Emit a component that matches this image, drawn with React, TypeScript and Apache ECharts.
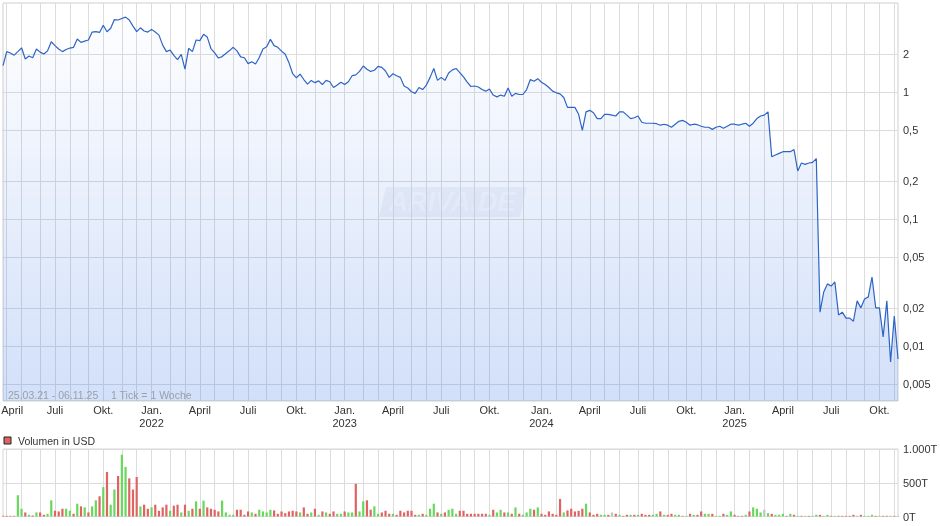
import React, { useEffect, useRef } from 'react';
import * as echarts from 'echarts';

// Weekly closing prices (USD), one per week starting 25.03.21
const startDate = '2021-03-25';
const prices = [
  1.62, 2.09, 2.04, 1.96, 2.09, 2.24, 1.83, 1.93, 1.87, 2.19,
  2.07, 2.0, 2.12, 2.5, 2.33, 2.19, 2.09, 2.17, 2.23, 2.26,
  2.63, 2.47, 2.53, 2.58, 2.98, 3.0, 2.96, 3.37, 3.0, 3.19,
  3.74, 3.71, 3.81, 3.91, 3.71, 3.32, 3.0, 3.22, 3.04, 2.98,
  3.13, 2.98, 2.82, 2.35, 2.09, 2.15, 1.95, 1.81, 1.99, 1.52,
  2.22, 2.09, 2.58, 2.55, 2.86, 2.72, 2.21, 2.04, 1.86, 1.91,
  2.02, 2.13, 2.26, 2.12, 1.9, 1.87, 1.68, 1.74, 1.67, 1.88,
  2.19, 2.28, 2.61, 2.33, 2.26, 2.11, 1.99, 1.71, 1.4, 1.3,
  1.39, 1.26, 1.16, 1.24, 1.19, 1.23, 1.15, 1.24, 1.21, 1.09,
  1.14, 1.2, 1.15, 1.21, 1.35, 1.37, 1.46, 1.61, 1.52, 1.46,
  1.49, 1.6, 1.57, 1.47, 1.31, 1.4, 1.35, 1.31, 1.12, 1.08,
  1.01, 0.98, 1.09, 1.05, 1.14, 1.31, 1.54, 1.24, 1.31, 1.24,
  1.42, 1.5, 1.54, 1.43, 1.32, 1.2, 1.11, 1.12, 1.1, 1.05,
  1.02, 1.06, 0.95, 0.92, 0.95, 0.93, 1.08, 0.93, 0.98, 0.96,
  0.96, 1.05, 1.26, 1.22, 1.28, 1.2, 1.15, 1.09, 1.02, 0.99,
  0.97, 0.91, 0.76, 0.76, 0.76, 0.67, 0.5, 0.7, 0.72, 0.69,
  0.62, 0.62, 0.67, 0.67, 0.66, 0.65, 0.7, 0.7, 0.66, 0.62,
  0.63, 0.65, 0.58, 0.57, 0.57, 0.57, 0.565, 0.55, 0.56, 0.55,
  0.53, 0.56, 0.59, 0.6, 0.58, 0.55, 0.56, 0.555, 0.54, 0.53,
  0.53, 0.51, 0.53, 0.54, 0.52, 0.54, 0.56, 0.56, 0.55, 0.56,
  0.57, 0.54, 0.57, 0.62, 0.65, 0.66, 0.7, 0.31, 0.32, 0.33,
  0.34, 0.34, 0.34, 0.354, 0.24, 0.277, 0.27, 0.277, 0.28, 0.3,
  0.0185, 0.0267, 0.0309, 0.0297, 0.032, 0.0176, 0.0185, 0.0166, 0.0166, 0.0157,
  0.0227, 0.02, 0.0235, 0.0244, 0.035, 0.02, 0.02, 0.0118, 0.0227, 0.0075,
  0.0172, 0.0079,
];

// Weekly volume in thousand USD (T)
const volumes = [
  10, 10, 10, 10, 315, 115, 60, 25, 15, 60,
  60, 25, 40, 240, 85, 75, 115, 115, 85, 40,
  190, 150, 135, 60, 150, 240, 300, 435, 660, 175,
  400, 600, 915, 735, 565, 400, 585, 150, 175, 115,
  135, 175, 85, 135, 175, 85, 160, 175, 60, 175,
  85, 115, 225, 115, 235, 135, 115, 100, 75, 235,
  60, 25, 25, 100, 100, 25, 75, 60, 40, 100,
  75, 60, 100, 90, 40, 75, 50, 75, 85, 75,
  60, 135, 40, 60, 115, 25, 75, 60, 40, 75,
  40, 40, 75, 60, 60, 485, 75, 225, 240, 100,
  150, 40, 60, 85, 40, 40, 25, 85, 60, 85,
  85, 25, 25, 40, 25, 115, 190, 60, 40, 60,
  100, 115, 40, 85, 85, 40,
  40, 40, 40, 40, 40, 25, 100, 60, 100, 60,
  60, 40, 135, 40, 25, 60, 115, 100, 135, 40,
  25, 75, 40, 25, 260, 60, 90, 115, 75, 85,
  115, 190, 60, 25, 40, 25, 25, 25, 60, 40,
  25, 10, 25, 25, 25, 25, 40, 25, 25, 25,
  40, 75, 25, 25, 40, 25, 25, 10, 10, 40,
  25, 25, 75, 40, 40, 40, 10, 10, 40, 25,
  75, 25, 10, 10, 25, 75, 135, 115, 60, 100,
  50, 40, 25, 25, 40, 10, 40, 25, 10, 10,
  10, 10, 10, 25, 25, 10, 25, 10, 10, 10,
  10, 10, 10, 25, 10, 25, 10, 10, 25, 10,
  10, 10, 10, 10, 10, 10,
];

// r = down week, g = up week, n = unchanged
const volumeTrend = (
  'rrrrggrgrg' + 'rrggrrrggr' + 'grgrggrgrg' + 'grggrrrgrr' + 'grrrrgrrgr' +
  'grgrgrrrrg' + 'gggrrrrgrg' + 'gggrrrrrrr' + 'grrgrgrgrr' + 'ggrggrggrr' +
  'ggrrrgrrrr' + 'rrgrgggrgr' + 'gggrrr' +
  'rrrrrgrggr' + 'grgrgggrgr' + 'rrrrrgrrrr' + 'rgrrrggrnr' + 'grrgrgrrrg' +
  'grgrrggrgr' + 'grrggrggrg' + 'grrrgrgggn' + 'grgggrgrgr' + 'grggrggrgr' +
  'rrrrgrgggr' + 'grrgrg'
).split('');

const yTickValues = [2, 1, 0.5, 0.2, 0.1, 0.05, 0.02, 0.01, 0.005];
const yTickLabels = ['2', '1', '0,5', '0,2', '0,1', '0,05', '0,02', '0,01', '0,005'];
const yMin = 0.00369;
const yMax = 5.05;

const volTicks = [0, 500, 1000];
const volLabels = ['0T', '500T', '1.000T'];

const monthLabels: Record<number, string> = { 0: 'Jan.', 3: 'April', 6: 'Juli', 9: 'Okt.' };

const FONT = '"Liberation Sans", Arial, sans-serif';
const DAY = 86400000;

export default function App() {
  const ref = useRef<HTMLDivElement>(null);

  useEffect(() => {
    if (!ref.current) return;
    const chart = echarts.init(ref.current, null, { renderer: 'svg' });

    const [sy, sm, sd] = startDate.split('-').map(Number);
    const t0 = Date.UTC(sy, sm - 1, sd);
    const categories = prices.map((_, i) => new Date(t0 + i * 7 * DAY).toISOString().slice(0, 10));
    // Sunday of the week (data points are Thursdays)
    const weekEnd = (i: number) => new Date(t0 + (i * 7 + 3) * DAY);
    const isMonthWeek = (i: number) => weekEnd(i).getUTCDate() <= 7;
    const isQuarterWeek = (i: number) => isMonthWeek(i) && monthLabels[weekEnd(i).getUTCMonth()] !== undefined;
    const labelFor = (i: number) => {
      const d = weekEnd(i);
      const m = d.getUTCMonth();
      const base = monthLabels[m] || '';
      const text = m === 0 ? base + '\n' + d.getUTCFullYear() : base;
      // keep the very first label inside the page's left edge
      return i < 3 ? '{edge|' + text + '}' : text;
    };

    const yTickLogs = yTickValues.map((v) => Math.log10(v));
    const yLabel = (v: number) => {
      let best = 0;
      yTickLogs.forEach((t, i) => {
        if (Math.abs(t - v) < Math.abs(yTickLogs[best] - v)) best = i;
      });
      return yTickLabels[best];
    };

    const gridLine = { show: true, lineStyle: { color: '#dcdcdc', width: 1 } };
    const trendColor: Record<string, string> = { r: '#de6464', g: '#68d85c', n: '#c4c4c4' };

    chart.setOption({
      animation: false,
      textStyle: { fontFamily: FONT },
      grid: [
        {
          left: 3, top: 3, width: 895, height: 398, show: true,
          borderColor: '#cfcfcf', borderWidth: 1, containLabel: false, outerBoundsMode: 'none',
        },
        {
          left: 3, top: 449, width: 895, height: 67.5, show: true,
          borderColor: '#d6d6d6', borderWidth: 1, containLabel: false, outerBoundsMode: 'none',
        },
      ],
      xAxis: [
        {
          type: 'category',
          gridIndex: 0,
          data: categories,
          boundaryGap: false,
          axisLine: { show: false },
          axisTick: { show: false },
          axisLabel: {
            interval: (i: number) => isQuarterWeek(i),
            formatter: (_v: string, i: number) => labelFor(i),
            color: '#333',
            fontSize: 11,
            lineHeight: 13,
            margin: 2,
            fontFamily: FONT,
            rich: {
              edge: { fontSize: 11, lineHeight: 13, color: '#333', fontFamily: FONT, padding: [0, 0, 0, 11] },
            },
          },
          splitLine: { ...gridLine, interval: (i: number) => isMonthWeek(i) },
        },
        {
          type: 'category',
          gridIndex: 1,
          data: categories,
          boundaryGap: false,
          axisLine: { show: false },
          axisTick: { show: false },
          axisLabel: { show: false },
          splitLine: { ...gridLine, interval: (i: number) => isMonthWeek(i) },
        },
      ],
      yAxis: [
        {
          type: 'value',
          gridIndex: 0,
          position: 'right',
          min: Math.log10(yMin),
          max: Math.log10(yMax),
          axisLine: { show: false },
          axisTick: { show: false, customValues: yTickLogs },
          axisLabel: {
            customValues: yTickLogs,
            formatter: (v: number) => yLabel(v),
            color: '#333',
            fontSize: 11,
            margin: 5,
            fontFamily: FONT,
          },
          splitLine: gridLine,
        },
        {
          type: 'value',
          gridIndex: 1,
          position: 'right',
          min: 0,
          max: 1000,
          interval: 500,
          axisLine: { show: false },
          axisTick: { show: false },
          axisLabel: {
            formatter: (v: number) => volLabels[volTicks.indexOf(v)] ?? '',
            color: '#333',
            fontSize: 11,
            margin: 5,
            fontFamily: FONT,
          },
          splitLine: gridLine,
        },
      ],
      series: [
        {
          type: 'line',
          xAxisIndex: 0,
          yAxisIndex: 0,
          data: prices.map((p) => Math.log10(p)),
          symbol: 'none',
          silent: true,
          lineStyle: { color: '#2e64c6', width: 1.2 },
          areaStyle: {
            origin: 'start',
            color: {
              type: 'linear',
              x: 0,
              y: 3,
              x2: 0,
              y2: 401,
              global: true,
              colorStops: [
                { offset: 0, color: 'rgba(60,120,230,0.0)' },
                { offset: 1, color: 'rgba(60,120,230,0.33)' },
              ],
            },
          },
        },
        {
          type: 'bar',
          xAxisIndex: 1,
          yAxisIndex: 1,
          barWidth: 2.2,
          silent: true,
          data: volumes.map((v, i) => ({ value: v, itemStyle: { color: trendColor[volumeTrend[i]] } })),
        },
      ],
      graphic: [
        {
          type: 'group',
          z: 50,
          children: [
            {
              type: 'polygon',
              shape: { points: [[386, 187], [527, 187], [520, 217], [379, 217]] },
              style: { fill: 'rgba(150,165,195,0.12)' },
            },
            {
              type: 'text',
              x: 452,
              y: 202,
              style: {
                text: 'ARIVA.DE',
                font: 'italic bold 27px "Liberation Sans", Arial, sans-serif',
                fill: 'rgba(255,255,255,0.5)',
                align: 'center',
                verticalAlign: 'middle',
              },
            },
          ],
        },
        {
          type: 'text',
          x: 8,
          y: 395,
          z: 50,
          style: {
            text: '25.03.21 - 06.11.25',
            font: '10.5px "Liberation Sans", Arial, sans-serif',
            fill: '#9aa0a8',
            verticalAlign: 'middle',
          },
        },
        {
          type: 'text',
          x: 111,
          y: 395,
          z: 50,
          style: {
            text: '1 Tick = 1 Woche',
            font: '10.5px "Liberation Sans", Arial, sans-serif',
            fill: '#9aa0a8',
            verticalAlign: 'middle',
          },
        },
        {
          type: 'rect',
          shape: { x: 4, y: 437, width: 7, height: 7 },
          style: { fill: '#de6464', stroke: '#222', lineWidth: 1 },
        },
        {
          type: 'text',
          x: 18,
          y: 441,
          style: {
            text: 'Volumen in USD',
            font: '10.5px "Liberation Sans", Arial, sans-serif',
            fill: '#333',
            verticalAlign: 'middle',
          },
        },
      ],
    });

    return () => chart.dispose();
  }, []);

  return <div ref={ref} style={{ position: 'fixed', left: 0, top: 0, width: 940, height: 526 }} />;
}
